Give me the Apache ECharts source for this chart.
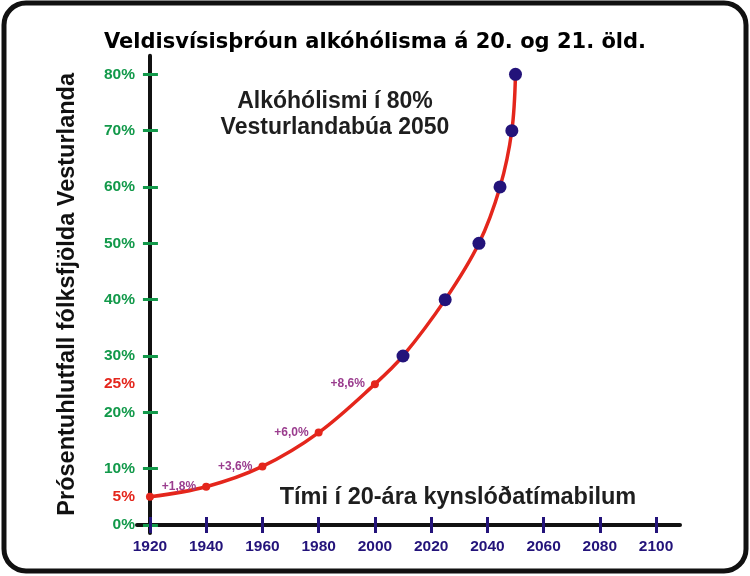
<!DOCTYPE html>
<html><head><meta charset="utf-8">
<script src="https://cdn.jsdelivr.net/npm/echarts@6/dist/echarts.min.js"></script>
<style>html,body{margin:0;padding:0;background:#fff}#c{width:750px;height:576px}</style>
</head><body><div id="c"></div>
<script>
// Data
var baseYear = 1920;
var historyYears = [1920, 1940, 1960, 1980, 2000];
var historyValues = [5, 6.8, 10.4, 16.4, 25];
var historyLabels = ['', '+1,8%', '+3,6%', '+6,0%', '+8,6%'];
var projYears = [2010, 2025, 2037, 2044.5, 2048.7, 2050];
var projValues = [30, 40, 50, 60, 70, 80];
var xTickYears = [1920, 1940, 1960, 1980, 2000, 2020, 2040, 2060, 2080, 2100];
var yTickValues = [0, 10, 20, 30, 40, 50, 60, 70, 80];
var yLabelValues = [0, 5, 10, 20, 25, 30, 40, 50, 60, 70, 80];
var redLabelValues = [5, 25];

var titleText = 'Veldisvísisþróun alkóhólisma á 20. og 21. öld.';
var yName = 'Prósentuhlutfall fólksfjölda Vesturlanda';
var noteText = 'Alkóhólismi í 80%\nVesturlandabúa 2050';
var xNote = 'Tími í 20-ára kynslóðatímabilum';

function off(y){ return y - baseYear; }
var xTicks = xTickYears.map(off);
var curve = historyYears.map(function(y,i){return [off(y), historyValues[i]];})
  .concat(projYears.map(function(y,i){return [off(y), projValues[i]];}));
var histPts = historyYears.map(function(y,i){return {value:[off(y), historyValues[i]], label:{show: !!historyLabels[i], formatter: historyLabels[i]}};});
var projPts = projYears.map(function(y,i){return [off(y), projValues[i]];});

var FONT = '"Liberation Sans", Arial, sans-serif';
var GREEN = '#12994a', RED = '#e4261c', INDIGO = '#23137a', PURPLE = '#9a3c8e';
var xMin = -4.6, xMax = 188.5, yMin = -1.42, yMax = 83.3;

var chart = echarts.init(document.getElementById('c'), null, {renderer:'canvas'});
chart.setOption({
  animation: false,
  backgroundColor: '#fff',
  title: {text: titleText, left: 'center', top: 27, textStyle:{fontFamily:'DejaVu Sans', fontWeight:'bold', fontSize:21, color:'#000'}},
  grid: {left: 137, right: 70, top: 55.7, bottom: 43, containLabel:false},
  xAxis: [{
    type:'value', min:xMin, max:xMax, position:'bottom',
    axisLine:{show:true, onZero:true, lineStyle:{color:'#111', width:4}},
    axisTick:{show:true, customValues:xTicks, length:8, inside:false, lineStyle:{color:INDIGO, width:3}},
    axisLabel:{show:true, customValues:xTicks, margin:6, formatter:function(v){return String(Math.round(v)+baseYear);}, color:INDIGO, fontFamily:FONT, fontWeight:'bold', fontSize:15.5},
    splitLine:{show:false}
  },{
    type:'value', min:xMin, max:xMax, position:'bottom',
    axisLine:{show:false, onZero:true},
    axisTick:{show:true, customValues:xTicks, length:8, inside:true, lineStyle:{color:INDIGO, width:3}},
    axisLabel:{show:false}, splitLine:{show:false}
  }],
  yAxis: [{
    type:'value', min:yMin, max:yMax, position:'left',
    name: yName, nameLocation:'middle', nameGap:57, nameRotate:90,
    nameTextStyle:{fontFamily:FONT, fontWeight:'bold', fontSize:23.5, color:'#111'},
    axisLine:{show:true, onZero:true, lineStyle:{color:'#111', width:4}},
    axisTick:{show:true, customValues:yTickValues, length:7, inside:false, lineStyle:{color:GREEN, width:3}},
    axisLabel:{show:true, customValues:yLabelValues, margin:2,
      formatter:function(v){ return (redLabelValues.indexOf(v) >= 0 ? '{r|' : '{g|') + v + '%}'; },
      rich:{g:{color:GREEN, fontFamily:FONT, fontWeight:'bold', fontSize:15.5}, r:{color:RED, fontFamily:FONT, fontWeight:'bold', fontSize:15.5}}},
    splitLine:{show:false}
  },{
    type:'value', min:yMin, max:yMax, position:'left',
    axisLine:{show:false, onZero:true},
    axisTick:{show:true, customValues:yTickValues, length:8, inside:true, lineStyle:{color:GREEN, width:3}},
    axisLabel:{show:false}, splitLine:{show:false}
  }],
  series: [{
    type:'line', data: curve, smooth:0.35, showSymbol:false, z:2,
    lineStyle:{color:RED, width:3.5}
  },{
    type:'scatter', data: histPts, symbolSize:8, z:3,
    itemStyle:{color:RED, opacity:1},
    label:{show:false, position:'left', distance:6, color:PURPLE, fontFamily:FONT, fontWeight:'bold', fontSize:12}
  },{
    type:'scatter', data: projPts, symbolSize:13, z:4,
    itemStyle:{color:INDIGO, opacity:1}
  }],
  graphic: [
    {type:'rect', shape:{x:4, y:3, width:742, height:568, r:22}, style:{fill:null, stroke:'#111', lineWidth:5}, z:100},
    {type:'text', x:335, y:115, style:{text:noteText, fontFamily:FONT, fontWeight:'bold', fontSize:23, lineHeight:26, fill:'#1e1e1e', textAlign:'center', textVerticalAlign:'middle'}},
    {type:'text', x:458, y:498, style:{text:xNote, fontFamily:FONT, fontWeight:'bold', fontSize:23.5, fill:'#1e1e1e', textAlign:'center', textVerticalAlign:'middle'}}
  ]
});
</script></body></html>
